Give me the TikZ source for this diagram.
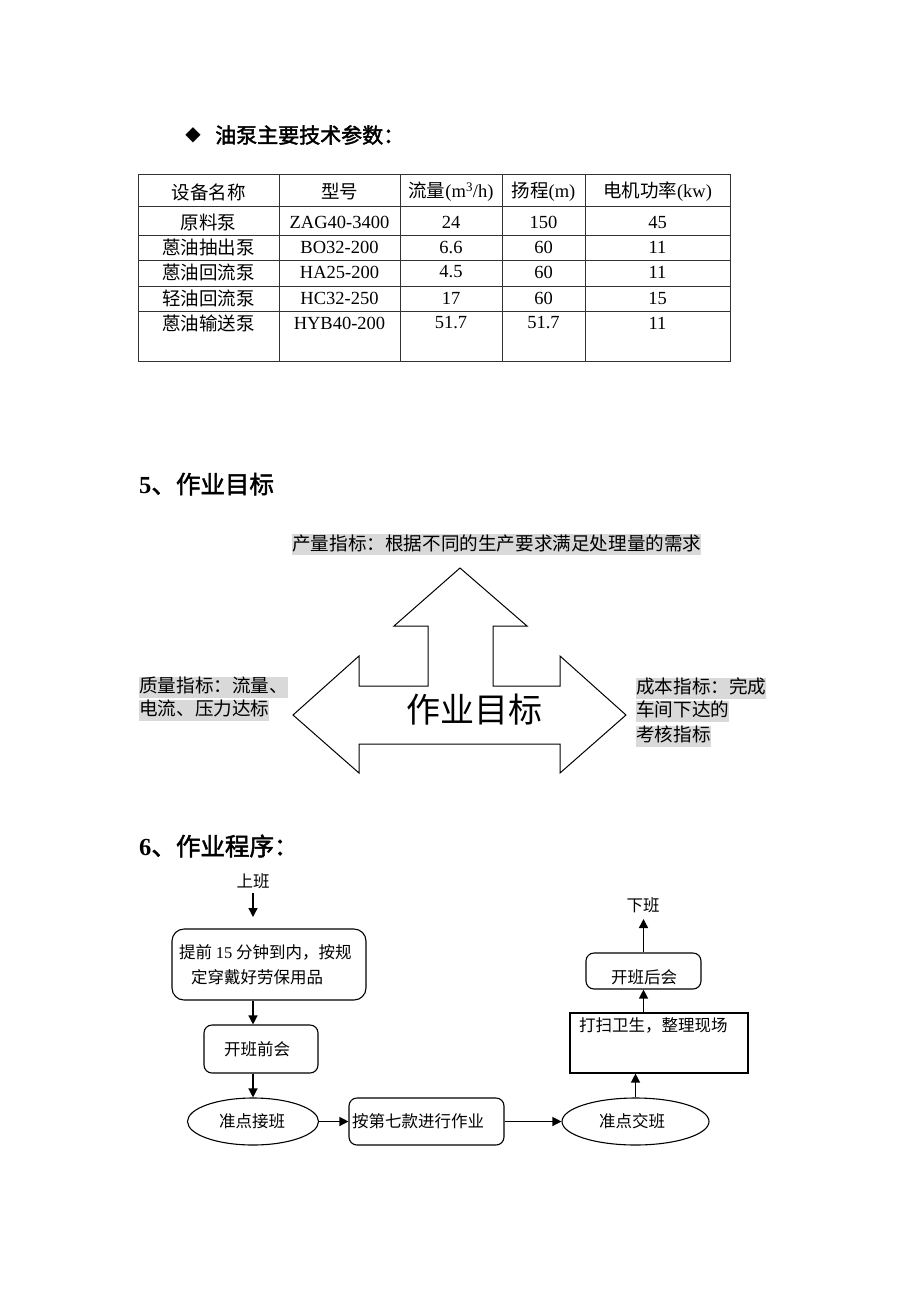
\documentclass[tikz,border=0pt]{standalone}
\usepackage{fontspec}
\setmainfont{Liberation Serif}
\newfontfamily\cjk{Noto Sans CJK SC}
\newfontfamily\cjkb{Noto Sans CJK SC}[FakeBold=2]
\newfontfamily\symf{DejaVu Sans}
\usetikzlibrary{shapes.geometric,arrows.meta}
\definecolor{hl}{RGB}{217,217,217}
\definecolor{tline}{RGB}{50,50,50}
\newcommand\zh[1]{{\cjk #1}}
\begin{document}
\begin{tikzpicture}[x=1pt,y=-1pt,
  tabtxt/.style={font=\fontsize{18.5}{22}\selectfont, inner sep=0},
  hltxt/.style={font=\fontsize{18.6}{22}\selectfont\cjk, fill=hl, inner xsep=0, inner ysep=0, text height=16pt, text depth=5pt, anchor=west},
  flow/.style={font=\fontsize{16.5}{19}\selectfont\cjk, inner sep=0},
  rbox/.style={draw, line width=1.1pt, rounded corners=8pt, inner sep=0},
  sbox/.style={draw, line width=1.1pt, inner sep=0},
  ell/.style={draw, ellipse, line width=1.1pt, inner sep=0},
  arr/.style={line width=1.3pt, -{Triangle[length=9pt,width=9pt]}},
]
\useasboundingbox[fill=white] (0,0) rectangle (920,1302);

% ---------- heading 1
\node[font=\fontsize{20}{24}\selectfont\symf, inner sep=0] (dia) at (193,135) {◆};
\node[font=\fontsize{21}{25}\selectfont\cjkb, anchor=west, inner sep=0] (h1) at (215,135) {油泵主要技术参数：};

% ---------- table
\draw[tline, line width=0.9pt] (138,174) rectangle (730,361);
\foreach \x in {279,400,502,585} \draw[tline, line width=0.9pt] (\x,174) -- (\x,361);
\foreach \y in {206,235,260,286,311} \draw[tline, line width=0.9pt] (138,\y) -- (730,\y);

\node[tabtxt] (c11) at (208.5,192) {\zh{设备名称}};
\node[tabtxt] (c12) at (339.5,192) {\zh{型号}};
\node[tabtxt] (c13) at (451,192) {\zh{流量}(m\textsuperscript{3}/h)};
\node[tabtxt] (c14) at (543.5,192) {\zh{扬程}(m)};
\node[tabtxt] (c15) at (657.5,192) {\zh{电机功率}(kw)};

\node[tabtxt] (c21) at (208.5,222) {\zh{原料泵}};
\node[tabtxt] (c22) at (339.5,222) {ZAG40-3400};
\node[tabtxt] (c23) at (451,222) {24};
\node[tabtxt] (c24) at (543.5,222) {150};
\node[tabtxt] (c25) at (657.5,222) {45};

\node[tabtxt] (c31) at (208.5,247) {\zh{蒽油抽出泵}};
\node[tabtxt] (c32) at (339.5,247) {BO32-200};
\node[tabtxt] (c33) at (451,247) {6.6};
\node[tabtxt] (c34) at (543.5,247) {60};
\node[tabtxt] (c35) at (657.5,247) {11};

\node[tabtxt] (c41) at (208.5,272) {\zh{蒽油回流泵}};
\node[tabtxt] (c42) at (339.5,272) {HA25-200};
\node[tabtxt] (c43) at (451,272) {4.5};
\node[tabtxt] (c44) at (543.5,272) {60};
\node[tabtxt] (c45) at (657.5,272) {11};

\node[tabtxt] (c51) at (208.5,298) {\zh{轻油回流泵}};
\node[tabtxt] (c52) at (339.5,298) {HC32-250};
\node[tabtxt] (c53) at (451,298) {17};
\node[tabtxt] (c54) at (543.5,298) {60};
\node[tabtxt] (c55) at (657.5,298) {15};

\node[tabtxt] (c61) at (208.5,323) {\zh{蒽油输送泵}};
\node[tabtxt] (c62) at (339.5,323) {HYB40-200};
\node[tabtxt] (c63) at (451,323) {51.7};
\node[tabtxt] (c64) at (543.5,323) {51.7};
\node[tabtxt] (c65) at (657.5,323) {11};

% ---------- section 5
\node[anchor=west, inner sep=0, font=\fontsize{24.5}{28}\selectfont] (h5) at (139,484) {\textbf{5}{\cjkb 、作业目标}};

\node[hltxt] (lt) at (292,544.5) {产量指标：根据不同的生产要求满足处理量的需求};
\node[hltxt] (ll1) at (139,687) {质量指标：流量、};
\node[hltxt] (ll2) at (139,710) {电流、压力达标};
\node[hltxt] (lr1) at (636,688) {成本指标：完成};
\node[hltxt] (lr2) at (636,711) {车间下达的};
\node[hltxt] (lr3) at (636,736) {考核指标};

\draw[line width=1pt, line join=miter] (293,715) -- (359,656) -- (359,686) -- (428,686) -- (428,626) -- (394,626)
  -- (460,568) -- (527,626) -- (493,626) -- (493,686) -- (560,686) -- (560,656) -- (626,715)
  -- (560,773) -- (560,744) -- (359,744) -- (359,773) -- cycle;
\node[font=\fontsize{34}{40}\selectfont\cjk, inner sep=0] (goal) at (474,710) {作业目标};

% ---------- section 6
\node[anchor=west, inner sep=0, font=\fontsize{24.5}{28}\selectfont] (h6) at (139,846) {\textbf{6}{\cjkb 、作业程序：}};

\node[flow] (sb) at (253,881) {上班};
\coordinate (sbA) at (253,893);
\coordinate (sbB) at (253,917);

\node[rbox, rounded corners=12pt, minimum width=194pt, minimum height=71pt] (b1) at (269,964.5) {};
\node[flow, anchor=west] (b1t1) at (179,952) {提前 {\rmfamily 15} 分钟到内，按规};
\node[flow, anchor=west] (b1t2) at (191,977) {定穿戴好劳保用品};

\node[rbox, minimum width=114pt, minimum height=48pt] (b2) at (261,1049) {};
\node[flow] (b2t) at (257,1049) {开班前会};

\node[ell, minimum width=131pt, minimum height=47pt] (e1) at (253,1121.5) {};
\node[flow] (e1t) at (252,1121) {准点接班};

\node[rbox, minimum width=155pt, minimum height=47pt] (b3) at (426.5,1121.5) {};
\node[flow, anchor=west] (b3t) at (352,1121) {按第七款进行作业};

\node[ell, minimum width=147pt, minimum height=47pt] (e2) at (635.5,1121.5) {};
\node[flow] (e2t) at (632,1121) {准点交班};

\node[sbox, minimum width=178pt, minimum height=60pt] (r1) at (659,1043) {};
\node[flow, anchor=west] (r1t) at (579,1025) {打扫卫生，整理现场};

\node[rbox, minimum width=115pt, minimum height=36pt] (b4) at (643.5,971) {};
\node[flow] (b4t) at (644,977) {开班后会};

\node[flow] (xb) at (643,905) {下班};
\coordinate (xbA) at (643.5,919);

% connectors
\draw[arr] (sbA) -- (sbB);
\draw[arr] (sbB |- b1.south) -- (sbB |- b2.north);
\draw[arr] (sbB |- b2.south) -- (e1.north);
\draw[arr] (e1.east) -- (b3.west);
\draw[arr] (b3.east) -- (e2.west);
\draw[arr] (e2.north) -- (e2.north |- r1.south);
\draw[arr] (b4.south |- r1.north) -- (b4.south);
\draw[arr] (b4.north) -- (xbA);
\end{tikzpicture}
\end{document}
